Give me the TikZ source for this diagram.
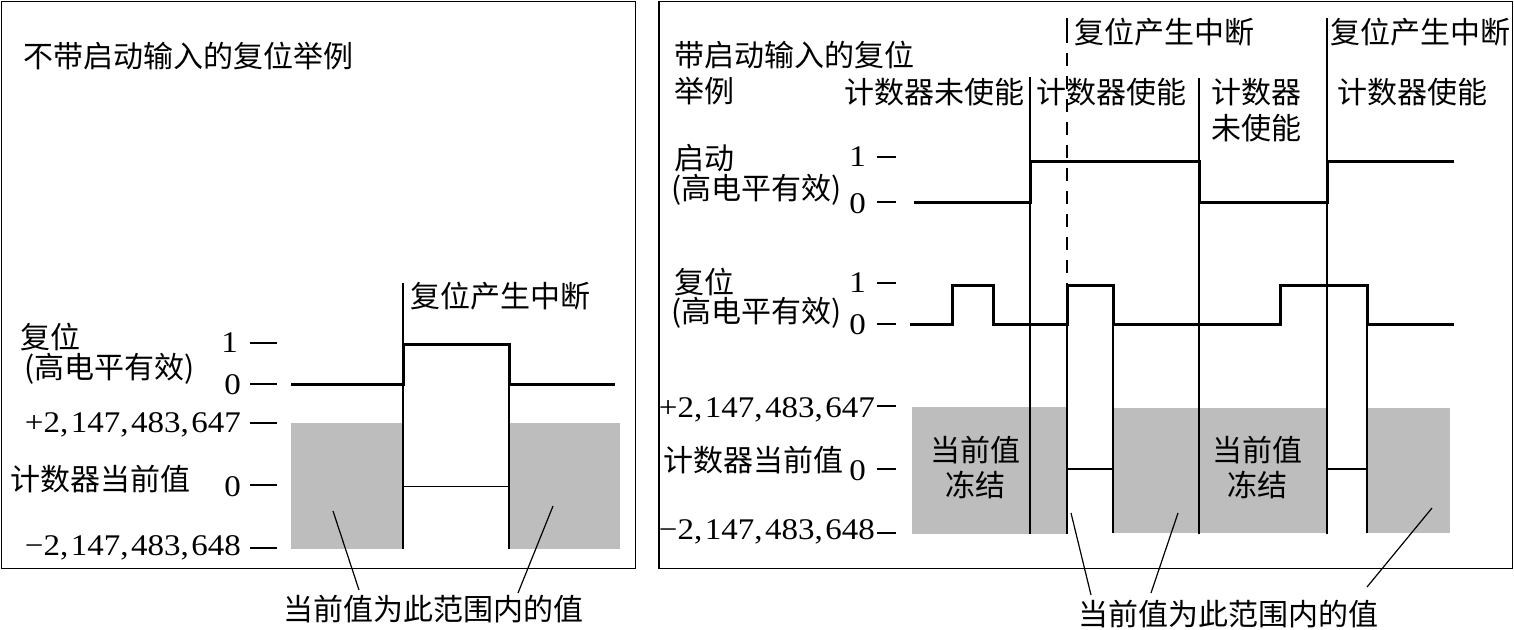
\documentclass[tikz,border=0pt]{standalone}
\usepackage{fontspec}
\setmainfont{Liberation Serif}
\newfontfamily\cjk{Noto Sans CJK SC}
\newfontfamily\numf[FakeStretch=1.1]{Liberation Serif}
\definecolor{gbox}{HTML}{BDBDBD}
\newcommand\cma{,\kern2.5pt}
\tikzset{
  sig/.style={line width=3pt, line join=miter},
  thinln/.style={line width=1.2pt},
  tickln/.style={line width=1.3pt},
  frame/.style={line width=1.5pt},
  shade/.style={fill=gbox, draw=none},
  zh/.style={font=\cjk\fontsize{30}{35}\selectfont, inner sep=0pt},
  nm/.style={font=\numf\fontsize{30}{34}\selectfont, inner sep=0pt},
  callout/.style={line width=1.2pt},
  dashln/.style={line width=1.2pt, dash pattern=on 13pt off 10pt},
}
\begin{document}
\begin{tikzpicture}[x=1pt,y=-1pt]
\useasboundingbox (0,0) rectangle (1514,629);
% ================= LEFT PANEL =================
\draw[frame] (1.5,1.5) rectangle (635.5,568.5);
\node[zh, anchor=west] (ltitle) at (23,56) {不带启动输入的复位举例};
% gray regions
\fill[shade] (291,423) rectangle (403,549);
\fill[shade] (509,423) rectangle (620,549);
% interrupt marker
\node[zh, anchor=west] (lint) at (410,296) {复位产生中断};
\draw[thinln] (403,283) -- (403,549);
\draw[thinln] (509,344) -- (509,549);
\draw[thinln] (403,486.5) -- (509,486.5);
% reset signal
\draw[sig] (291,384) -- (403,384) -- (403,344) -- (509,344) -- (509,384) -- (615,384);
% labels
\node[zh, anchor=west] (lrst) at (20,337) {复位};
\node[zh, anchor=west] (lrsth) at (24,369) {(高电平有效)};
\node[nm, anchor=east] (lone) at (238,343) {1};
\node[nm, anchor=east] (lzero) at (241,385) {0};
\draw[tickln] (250,343) -- (277,343);
\draw[tickln] (250,384) -- (277,384);
\node[nm, anchor=east] (lmax) at (241,425) {+2\cma147\cma483\cma647};
\draw[tickln] (250,423) -- (277,423);
\node[zh, anchor=west] (lcnt) at (10,479) {计数器当前值};
\node[nm, anchor=east] (lczero) at (241,487) {0};
\draw[tickln] (250,485) -- (277,485);
\node[nm, anchor=east] (lmin) at (241,548) {−2\cma147\cma483\cma648};
\draw[tickln] (250,548) -- (277,548);
% callouts
\node[zh] (lrange) at (433,609) {当前值为此范围内的值};
\coordinate (lc1) at (333,511);
\coordinate (lc2) at (553,506);
\draw[callout] (lc1) -- (359,590);
\draw[callout] (lc2) -- (518,593);
% ================= RIGHT PANEL =================
\draw[frame] (659,1.5) rectangle (1512.5,568.5);
\node[zh, anchor=west] (rtitle) at (674,55) {带启动输入的复位};
\node[zh, anchor=west] (rtitleb) at (674,91) {举例};
\node[zh, anchor=west] (rdis1) at (844,92) {计数器未使能};
\node[zh, anchor=west] (ren1) at (1036,92) {计数器使能};
\node[zh, anchor=west] (rdis2a) at (1211,92) {计数器};
\node[zh, anchor=west] (rdis2b) at (1211,128) {未使能};
\node[zh, anchor=west] (ren2) at (1337,92) {计数器使能};
\node[zh, anchor=west] (rint1) at (1074,32) {复位产生中断};
\node[zh, anchor=west] (rint2) at (1330,32) {复位产生中断};
% gray regions
\fill[shade] (912,407) rectangle (1067,534);
\fill[shade] (1113,408) rectangle (1327,533);
\fill[shade] (1367,408) rectangle (1450,533);
\node[zh] (rfz1a) at (975,450) {当前值};
\node[zh] (rfz1b) at (975,485) {冻结};
\node[zh] (rfz2a) at (1257,450) {当前值};
\node[zh] (rfz2b) at (1257,485) {冻结};
% vertical lines
\draw[thinln] (1030,77) -- (1030,534);
\draw[thinln] (1199,78) -- (1199,534);
\draw[thinln] (1327,18) -- (1327,534);
\draw[thinln] (1067,18) -- (1067,43);
\draw[dashln] (1067,53) -- (1067,285);
\draw[thinln] (1067,324) -- (1067,534);
\draw[thinln] (1113,324) -- (1113,533);
\draw[thinln] (1367,324) -- (1367,533);
\draw[thinln] (1067,469) -- (1113,469);
\draw[thinln] (1327,469) -- (1367,469);
% start signal
\draw[sig] (914,202) -- (1030,202) -- (1030,161) -- (1199,161) -- (1199,202) -- (1327,202) -- (1327,161) -- (1454,161);
% reset signal
\draw[sig] (910,324) -- (952.5,324) -- (952.5,285) -- (993,285) -- (993,324) -- (1067,324) -- (1067,285) -- (1113,285) -- (1113,324) -- (1280,324) -- (1280,285) -- (1367,285) -- (1367,324) -- (1454,324);
% labels
\node[zh, anchor=west] (rst) at (674,158) {启动};
\node[zh, anchor=west] (rsth) at (671,190) {(高电平有效)};
\node[nm, anchor=east] (rsone) at (866,157) {1};
\node[nm, anchor=east] (rszero) at (866,204) {0};
\draw[tickln] (877,157) -- (896,157);
\draw[tickln] (877,202) -- (896,202);
\node[zh, anchor=west] (rrst) at (674,282) {复位};
\node[zh, anchor=west] (rrsth) at (671,313) {(高电平有效)};
\node[nm, anchor=east] (rrone) at (866,283) {1};
\node[nm, anchor=east] (rrzero) at (866,325) {0};
\draw[tickln] (877,283) -- (896,283);
\draw[tickln] (877,324) -- (896,324);
\node[nm, anchor=east] (rmax) at (875,410) {+2\cma147\cma483\cma647};
\draw[tickln] (877,406) -- (896,406);
\node[zh, anchor=west] (rcnt) at (663,460) {计数器当前值};
\node[nm, anchor=east] (rczero) at (866,471) {0};
\draw[tickln] (877,469) -- (896,469);
\node[nm, anchor=east] (rmin) at (875,532) {−2\cma147\cma483\cma648};
\draw[tickln] (877,533) -- (896,533);
% callouts
\node[zh] (rrange) at (1228,614) {当前值为此范围内的值};
\coordinate (rc1) at (1071,513);
\coordinate (rc2) at (1178,513);
\coordinate (rc3) at (1432,508);
\draw[callout] (rc1) -- (1091,595);
\draw[callout] (rc2) -- (1151,593);
\draw[callout] (rc3) -- (1367,587);
\end{tikzpicture}
\end{document}
